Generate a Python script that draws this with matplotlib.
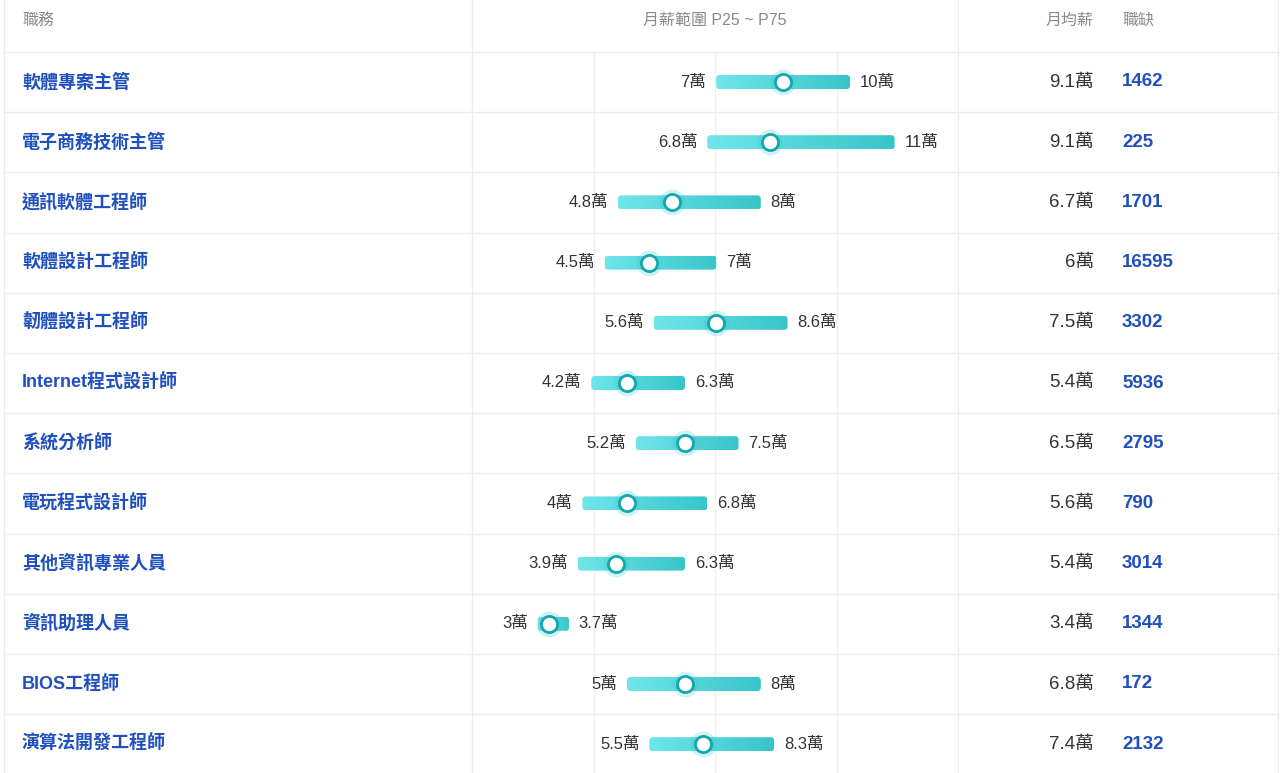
import numpy as np
import matplotlib.pyplot as plt
from matplotlib.patches import FancyBboxPatch
from matplotlib.colors import LinearSegmentedColormap
import matplotlib.transforms as mtrans

plt.rcParams['font.family'] = ['Liberation Sans', 'Noto Sans CJK TC', 'DejaVu Sans']

jobs = ['軟體專案主管', '電子商務技術主管', '通訊軟體工程師', '軟體設計工程師',
        '韌體設計工程師', 'Internet程式設計師', '系統分析師', '電玩程式設計師',
        '其他資訊專業人員', '資訊助理人員', 'BIOS工程師', '演算法開發工程師']
p25 = [7, 6.8, 4.8, 4.5, 5.6, 4.2, 5.2, 4, 3.9, 3, 5, 5.5]
p75 = [10, 11, 8, 7, 8.6, 6.3, 7.5, 6.8, 6.3, 3.7, 8, 8.3]
median = [8.5, 8.2, 6.0, 5.5, 7.0, 5.0, 6.3, 5.0, 4.75, 3.25, 6.3, 6.7]
mean = [9.1, 9.1, 6.7, 6, 7.5, 5.4, 6.5, 5.6, 5.4, 3.4, 6.8, 7.4]
openings = [1462, 225, 1701, 16595, 3302, 5936, 2795, 790, 3014, 1344, 172, 2132]
headers = ['職務', '月薪範圍 P25 ~ P75', '月均薪', '職缺']

W, H = 1280, 773
fig = plt.figure(figsize=(W / 100, H / 100), dpi=100)
fig.patch.set_facecolor('white')

# range column axes (x in 萬, y in rows)
ax = fig.add_axes([472 / W, 0, 486 / W, 1])
px_per_unit = 44.6
row_h = 60.2
x0 = (472 - 404) / px_per_unit
ax.set_xlim(x0, x0 + 486 / px_per_unit)
ax.set_ylim((H - 82) / row_h, -82 / row_h)
ax.axis('off')

bt = mtrans.blended_transform_factory(fig.transFigure, ax.transData)
line_c = '#ececec'
n = len(jobs)

# row separators
for i in range(-1, n - 1):
    ax.plot([4 / W, 1278 / W], [i + 0.5, i + 0.5], color=line_c, lw=1,
            transform=bt, clip_on=False, zorder=0)
# column separators
for xf in [4, 472, 958, 1278]:
    ax.plot([xf / W, xf / W], [0, 1], color=line_c, lw=1,
            transform=fig.transFigure, clip_on=False, zorder=0)
# inner gridlines
gt = mtrans.blended_transform_factory(ax.transAxes, ax.transData)
for q in [0.25, 0.5, 0.75]:
    ax.plot([q, q], [-0.5, n + 1], color='#f0f0f0', lw=1, transform=gt,
            clip_on=True, zorder=0)

# headers
hy = -82 / row_h + 20 / row_h
ax.text(22 / W, hy, headers[0], transform=bt, ha='left', va='center',
        fontsize=11.5, color='#8a8a8a')
ax.text(0.5, hy, headers[1], transform=gt, ha='center', va='center',
        fontsize=11.5, color='#8a8a8a')
ax.text(1094 / W, hy, headers[2], transform=bt, ha='right', va='center',
        fontsize=11.5, color='#8a8a8a')
ax.text(1122 / W, hy, headers[3], transform=bt, ha='left', va='center',
        fontsize=11.5, color='#8a8a8a')

cmap = LinearSegmentedColormap.from_list('bar', ['#6fe6ea', '#37c5ca'])
grad = np.linspace(0, 1, 256).reshape(1, -1)
bar_h = 14 / row_h
aspect = (1 / row_h) / (1 / px_per_unit)

for i in range(n):
    lo, hi = p25[i], p75[i]
    patch = FancyBboxPatch((lo, i - bar_h / 2), hi - lo, bar_h,
                           boxstyle='round,pad=0,rounding_size=0.07',
                           mutation_aspect=aspect, facecolor='none',
                           edgecolor='none', zorder=2)
    ax.add_patch(patch)
    im = ax.imshow(grad, cmap=cmap, aspect='auto', zorder=2,
                   extent=(lo, hi, i + bar_h / 2, i - bar_h / 2))
    im.set_clip_path(patch)
    ax.scatter(median[i], i, s=340, color='#3cc8cc', alpha=0.25,
               linewidths=0, zorder=3)
    ax.scatter(median[i], i, s=135, color='white', edgecolors='#14a6ad',
               linewidths=2, zorder=4)
    ax.annotate(f'{lo:g}萬', (lo, i), xytext=(-7, 0), textcoords='offset points',
                ha='right', va='center', fontsize=12, color='#333333')
    ax.annotate(f'{hi:g}萬', (hi, i), xytext=(7, 0), textcoords='offset points',
                ha='left', va='center', fontsize=12, color='#333333')

    ax.text(22 / W, i, jobs[i], transform=bt, ha='left', va='center',
            fontsize=13, fontweight='bold', color='#1f50bd')
    ax.text(1094 / W, i, f'{mean[i]:g}萬', transform=bt, ha='right',
            va='center', fontsize=13.5, color='#333333')
    ax.text(1122 / W, i, str(openings[i]), transform=bt, ha='left',
            va='center', fontsize=13.5, fontweight='bold', color='#1f50bd')

ax.set_ylim((H - 82) / row_h, -82 / row_h)
ax.set_xlim(x0, x0 + 486 / px_per_unit)
fig.savefig('out.png', dpi=100, facecolor='white')
